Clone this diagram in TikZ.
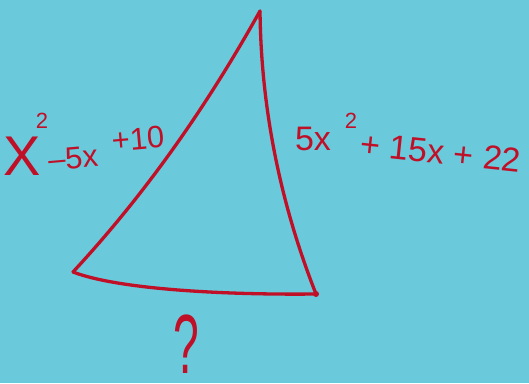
\documentclass[tikz,border=0pt]{standalone}
\usepackage{fontspec}
\usepackage{graphicx}
\setmainfont{Liberation Sans}
\definecolor{bgcyan}{RGB}{106,201,219}
\definecolor{pen}{RGB}{192,16,40}
\begin{document}
\begin{tikzpicture}[x=1pt,y=-1pt,
  side/.style={draw=pen,line width=3.3pt,line cap=round,line join=round},
  lab/.style={text=pen,inner sep=0pt,font=\fontsize{31}{31}\selectfont},
  rlab/.style={text=pen,inner sep=0pt,font=\fontsize{34}{34}\selectfont},
  big/.style={text=pen,inner sep=0pt,font=\fontsize{56}{56}\selectfont},
  sup/.style={text=pen,inner sep=0pt,font=\fontsize{22}{22}\selectfont}]
\fill[bgcyan] (0,0) rectangle (529,383);
\useasboundingbox (0,0) rectangle (529,383);
\coordinate (T) at (260,11);
\coordinate (L) at (73,272);
\coordinate (R) at (316,294);
\draw[side] (L) .. controls (148,191) and (208,104) .. (T);
\draw[side] (T) .. controls (261,105) and (279,200) .. (R);
\draw[side] (L) .. controls (120,290) and (230,295) .. (R);
\fill[pen] (R) circle (3pt);
% left label
\node[big] (lx) at (22,156) {X};
\node[sup] (l2) at (42,121) {2};
\node[lab,rotate=5] (l5) at (73,158) {–5x};
\node[lab,rotate=5] (l10) at (138,139) {+10};
% right label
\node[rlab] (r5) at (313,139) {5x};
\node[sup] (r2) at (351,121) {2};
\node[rlab,rotate=-6] (rrest) at (441,152) {+ 15x + 22};
% bottom label
\node[text=pen,inner sep=0pt,font=\fontsize{84}{84}\selectfont] (q) at (186,344) {\scalebox{0.55}[1]{?}};
\end{tikzpicture}
\end{document}
